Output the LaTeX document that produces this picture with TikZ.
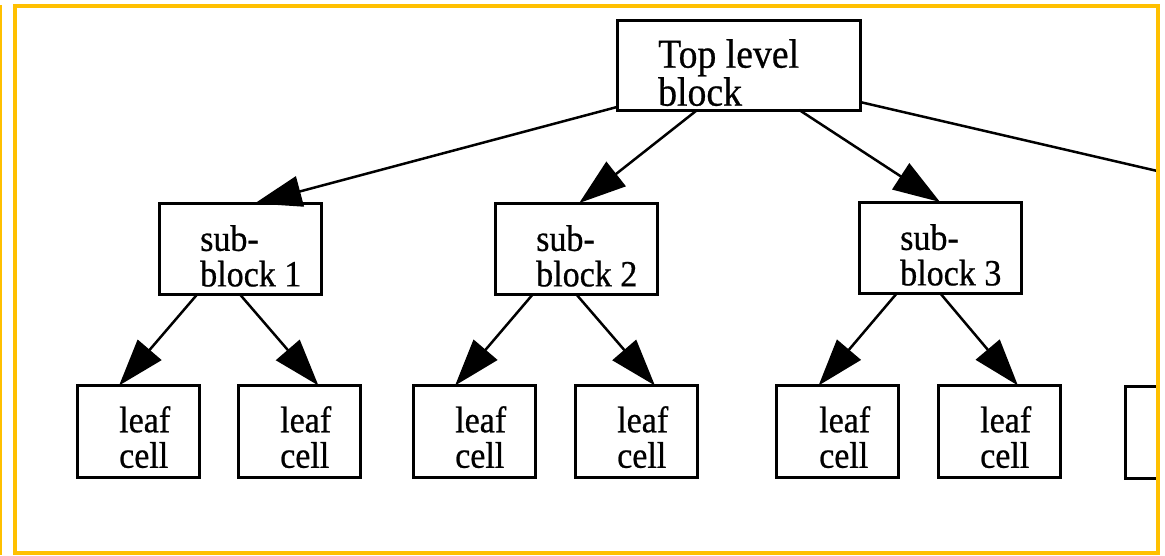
\documentclass[tikz,border=0pt]{standalone}
\usepackage{fontspec}
\newfontfamily\diafont[FakeStretch=0.92,FakeBold=0.6]{Liberation Serif}
\usetikzlibrary{arrows.meta,calc}
\definecolor{frameyellow}{RGB}{255,192,0}
\begin{document}
\begin{tikzpicture}[x=1pt,y=-1pt,
  box/.style={draw=black, line width=3pt, rectangle, inner sep=0pt, outer sep=0pt},
  topbox/.style={box, minimum width=243pt, minimum height=90pt},
  subbox/.style={box, minimum width=162pt, minimum height=91pt},
  leafbox/.style={box, minimum width=122pt, minimum height=92pt},
  toptext/.style={font=\diafont\fontsize{41}{38}\selectfont, align=left, anchor=north west, inner sep=0pt},
  lowtext/.style={font=\diafont\fontsize{37}{35.5}\selectfont, align=left, anchor=north west, inner sep=0pt},
  link/.style={line width=2.5pt, -{Triangle[length=47pt,width=31pt]}},
  plainlink/.style={line width=2.5pt}]
\useasboundingbox (0,0) rectangle (1165,555);
\fill[white] (0,0) rectangle (1165,555);
% boxes
\node[topbox] (top) at (738.5,65) {};
\node[subbox] (sub1) at (240,249) {};
\node[subbox] (sub2) at (576,248.5) {};
\node[subbox] (sub3) at (940,247.5) {};
\node[leafbox] (leaf1) at (138,431.5) {};
\node[leafbox] (leaf2) at (299.5,431.5) {};
\node[leafbox] (leaf3) at (474,431.5) {};
\node[leafbox] (leaf4) at (636,431.5) {};
\node[leafbox] (leaf5) at (837.5,431.5) {};
\node[leafbox] (leaf6) at (999,431.5) {};
% texts
\node[toptext] (toptxt) at (658,39) {Top level\\block};
\node[lowtext] (sub1txt) at (200,225) {sub-\\block 1};
\node[lowtext] (sub2txt) at (536,225) {sub-\\block 2};
\node[lowtext] (sub3txt) at (900,224) {sub-\\block 3};
\node[lowtext] (leaf1txt) at (119,406) {leaf\\cell};
\node[lowtext] (leaf2txt) at (280,406) {leaf\\cell};
\node[lowtext] (leaf3txt) at (455,406) {leaf\\cell};
\node[lowtext] (leaf4txt) at (617,406) {leaf\\cell};
\node[lowtext] (leaf5txt) at (819,406) {leaf\\cell};
\node[lowtext] (leaf6txt) at (980,406) {leaf\\cell};
% connectors
\draw[link] ([yshift=3pt]top.south west) -- ($(sub1.north west)!0.59!(sub1.north east)$);
\draw[link] ($(top.south west)!0.33!(top.south east)$) -- ($(sub2.north west)!0.52!(sub2.north east)$);
\draw[link] ($(top.south west)!0.75!(top.south east)$) -- ($(sub3.north west)!0.5!(sub3.north east)$);
\foreach \s/\a/\b in {sub1/leaf1/leaf2, sub2/leaf3/leaf4, sub3/leaf5/leaf6} {
  \draw[link] ($(\s.south west)!0.235!(\s.south east)$) -- ($(\a.north west)!0.345!(\a.north east)$);
  \draw[link] ($(\s.south west)!0.5!(\s.south east)$) -- ($(\b.north west)!0.655!(\b.north east)$);
}
% elements leaving the frame
\begin{scope}
  \clip (0,0) rectangle (1157.7,555);
  \node[leafbox] (leaf7) at (1186,432.5) {};
  \coordinate (off4) at (1250,192.5);
  \draw[plainlink] ([yshift=8pt]top.south east) -- (off4);
\end{scope}
% frame
\draw[frameyellow, line width=4pt] (14.7,6) rectangle (1157.7,552.5);
\draw[frameyellow, line width=1.5pt] (0.75,5) -- (0.75,555);
\end{tikzpicture}
\end{document}
